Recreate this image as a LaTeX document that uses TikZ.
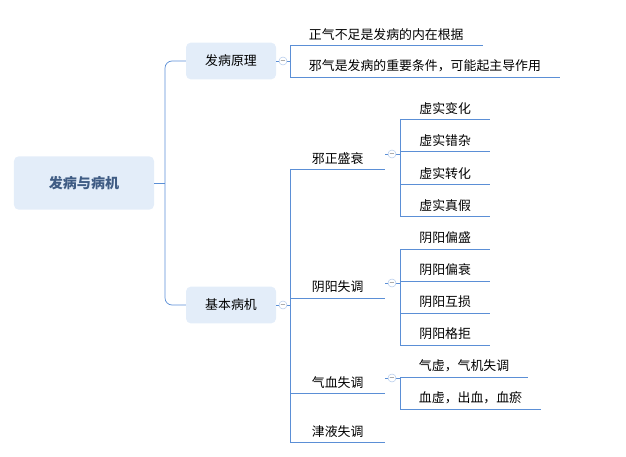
\documentclass[tikz,border=0pt]{standalone}
\usepackage{fontspec}
\setmainfont{Noto Sans CJK SC}
\usetikzlibrary{positioning}
\definecolor{mapblue}{HTML}{5B8FD6}
\definecolor{boxfill}{HTML}{E3EDF9}
\definecolor{roottext}{HTML}{3F5C84}
\tikzset{
  topic/.style={draw=none,fill=boxfill,rounded corners=4pt,minimum width=2.7cm,minimum height=1.1cm,font=\fontsize{11}{13}\selectfont},
  root/.style={topic,minimum width=4.2cm,minimum height=1.6cm,text=roottext,font=\fontsize{12}{14}\selectfont\bfseries},
  leaf/.style={anchor=south west,inner xsep=16,inner ysep=4pt,font=\fontsize{11}{13}\selectfont},
  link/.style={draw=mapblue,line width=0.6pt},
  fold/.style={circle,draw=mapblue!50,fill=white,inner sep=0pt,minimum size=0.24cm,line width=0.4pt}
}
\begin{document}
\begin{tikzpicture}[x=0.03cm,y=-0.03cm]
  \useasboundingbox (0,0) rectangle (626,457);

  \node[root] (root) at (84,183) {发病与病机};
  \node[topic] (yuanli) at (231,61) {发病原理};
  \node[topic] (bingji) at (231,305) {基本病机};
  \coordinate (hub) at (165,183);
  \draw[link] (root.east) -- (hub);
  \draw[link,rounded corners=6pt] (yuanli.west) -| (hub) |- (bingji.west);

  % 发病原理
  \node[leaf] (yl1) at (290,45) {正气不足是发病的内在根据};
  \node[leaf] (yl2) at (290,77) {邪气是发病的重要条件，可能起主导作用};
  \draw[link] (yuanli.east) -- (290,61);
  \draw[link] (yl1.south east) -- (yl1.south west) -- (yl2.south west) -- (yl2.south east);
  \node[fold] at (283,61) {\tiny$-$};

  % 基本病机
  \node[leaf,minimum width=2.85cm] (bj1) at (290,169) {邪正盛衰};
  \node[leaf,minimum width=2.85cm] (bj2) at (290,298) {阴阳失调};
  \node[leaf,minimum width=2.85cm] (bj3) at (290,393) {气血失调};
  \node[leaf,minimum width=2.85cm] (bj4) at (290,442) {津液失调};
  \draw[link] (bingji.east) -- (290,305);
  \draw[link] (bj1.south west) -- (bj4.south west);
  \foreach \n in {bj1,bj2,bj3,bj4}
    \draw[link] (\n.south west) -- (\n.south east);
  \node[fold] at (283,305) {\tiny$-$};

  % 邪正盛衰
  \foreach \t/\y [count=\i] in {虚实变化/119,虚实错杂/151,虚实转化/184,虚实真假/216}
    \node[leaf,minimum width=2.7cm] (xs\i) at (400,\y) {\t};
  \draw[link] (385,154) -- (400,154);
  \draw[link] (xs1.south west) -- (xs4.south west);
  \foreach \i in {1,...,4}
    \draw[link] (xs\i.south west) -- (xs\i.south east);
  \node[fold] at (392,154) {\tiny$-$};

  % 阴阳失调
  \foreach \t/\y [count=\i] in {阴阳偏盛/249,阴阳偏衰/281,阴阳互损/313,阴阳格拒/345}
    \node[leaf,minimum width=2.7cm] (yy\i) at (400,\y) {\t};
  \draw[link] (385,283) -- (400,283);
  \draw[link] (yy1.south west) -- (yy4.south west);
  \foreach \i in {1,...,4}
    \draw[link] (yy\i.south west) -- (yy\i.south east);
  \node[fold] at (392,283) {\tiny$-$};

  % 气血失调
  \node[leaf] (qx1) at (400,377) {气虚，气机失调};
  \node[leaf] (qx2) at (400,409) {血虚，出血，血瘀};
  \draw[link] (385,378) -- (400,378);
  \draw[link] (qx1.south west) -- (qx2.south west);
  \foreach \n in {qx1,qx2}
    \draw[link] (\n.south west) -- (\n.south east);
  \node[fold] at (392,378) {\tiny$-$};
\end{tikzpicture}
\end{document}
